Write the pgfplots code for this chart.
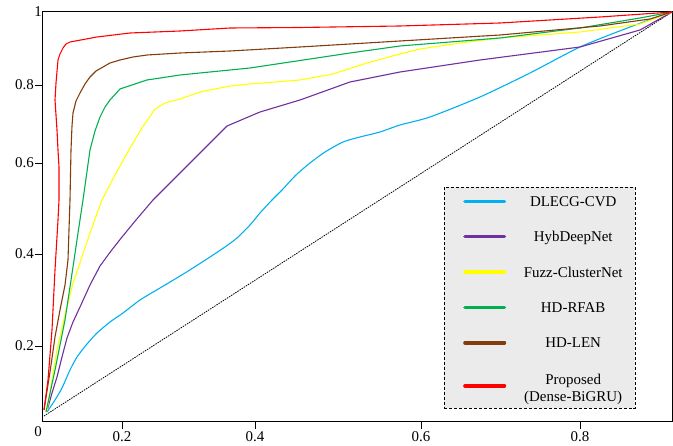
\documentclass[border=0pt]{standalone}
\usepackage{pgfplots}
\pgfplotsset{compat=1.18}
\usepackage{fontspec}
\setmainfont{Liberation Serif}
\definecolor{cCyan}{HTML}{00B0F0}
\definecolor{cPurple}{HTML}{7030A0}
\definecolor{cYellow}{HTML}{FFFF00}
\definecolor{cGreen}{HTML}{00B050}
\definecolor{cBrown}{HTML}{843C0C}
\definecolor{cRed}{HTML}{FF0000}
\definecolor{legfill}{HTML}{EBEBEB}
\begin{document}
\begin{tikzpicture}
\path[use as bounding box] (-43bp,-25bp) rectangle (630bp,421bp);
\begin{axis}[
  at={(0,0)}, anchor=south west,
  scale only axis, width=629bp, height=409bp,
  xmin=43, xmax=672, ymin=0, ymax=409,
  axis line style={black, line width=1bp},
  xtick={122,255,421,580}, xticklabels={0.2,0.4,0.6,0.8},
  ytick={75,167,258,336}, yticklabels={0.2,0.4,0.6,0.8},
  tick align=outside, xtick pos=bottom, ytick pos=left,
  major tick length=8bp, tick style={black, line width=0.9bp},
  tick label style={font=\fontsize{15}{17}\selectfont},
  yticklabel style={inner xsep=1bp},
  xticklabel style={inner ysep=2bp},
  clip=false,
  legend style={
    at={(axis cs:444,234)}, anchor=north west,
    draw=black, densely dashed, fill=legfill,
    inner xsep=19bp, inner ysep=7.5bp,
    row sep=22bp, column sep=24bp,
    nodes={inner sep=0pt},
    font=\fontsize{15}{17}\selectfont,
  },
  legend image code/.code={\draw[solid, line width=3.5bp, line cap=round] (1.75bp,0bp) -- (41.25bp,0bp);},
]
% chance line
\addplot[forget plot, black, line width=0.8bp, dash pattern=on 1.5bp off 1bp] coordinates {(44,5) (672,409)};
% DLECG-CVD
\addplot[cCyan, line width=1.1bp, solid, smooth, tension=0.4] coordinates {
(47,9) (55,21) (62,33) (70,51) (77,64) (87,77) (97,88) (110,99) (123,108) (140,121) (160,133) (185,148) (210,164) (225,174) (237,183) (250,196) (260,208) (272,221) (282,231) (296,246) (310,258) (325,269) (343,279) (360,284) (380,289) (400,296) (430,304) (480,324) (530,348) (580,374) (630,394) (672,409)};
\addlegendentry{\makebox[86bp]{\strut DLECG-CVD}}
% HybDeepNet
\addplot[cPurple, line width=1.1bp, solid] coordinates {
(47,10) (52,28) (57,44) (62,64) (67,83) (73,99) (80,114) (90,136) (100,155) (111,170) (122,184) (136,201) (153,221) (190,258) (227,295) (260,309) (300,321) (350,339) (400,349) (480,361) (580,374) (640,391) (672,409)};
\addlegendentry{\makebox[86bp]{\strut HybDeepNet}}
% Fuzz-ClusterNet
\addplot[cYellow, line width=1.1bp, solid] coordinates {
(47,10) (52,41) (57,71) (65,106) (73,138) (82,164) (90,188) (102,221) (115,246) (130,273) (142,293) (155,312) (165,318) (180,322) (200,329) (230,335) (250,337) (300,341) (333,347) (367,358) (400,367) (420,372) (460,378) (500,383) (580,389) (640,397) (672,409)};
\addlegendentry{\makebox[86bp]{\strut Fuzz-ClusterNet}}
% HD-RFAB
\addplot[cGreen, line width=1.1bp, solid] coordinates {
(46,9) (55,51) (65,101) (73,154) (78,188) (83,221) (90,271) (95,290) (100,304) (105,314) (110,321) (120,332) (147,341) (180,346) (230,351) (250,353) (350,368) (400,375) (500,383) (580,393) (640,403) (672,409)};
\addlegendentry{\makebox[86bp]{\strut HD-RFAB}}
% HD-LEN
\addplot[cBrown, line width=1.1bp, solid] coordinates {
(44,11) (50,49) (55,84) (60,111) (65,136) (68,161) (70,221) (71,271) (72,295) (73,308) (76,320) (80,328) (85,337) (90,344) (96,350) (103,354) (110,358) (120,361) (133,364) (147,366) (180,368) (230,370) (300,374) (400,380) (500,386) (600,395) (650,402) (672,409)};
\addlegendentry{\makebox[86bp]{\strut HD-LEN}}
% Proposed
\addplot[cRed, line width=1.1bp, solid] coordinates {
(44,11) (48,41) (52,91) (55,151) (58,201) (59,221) (59,254) (58,271) (57,291) (55,321) (56,338) (58,361) (60,367) (63,373) (66,377) (70,379) (97,384) (130,388) (180,390) (230,393) (300,393.5) (400,395) (500,398) (600,404) (672,409)};
\addlegendentry{\makebox[86bp]{\raisebox{4bp}{\def\arraystretch{1.06}\begin{tabular}{@{}c@{}}Proposed\\(Dense-BiGRU)\rule[-9bp]{0pt}{9bp}\end{tabular}}}}
\node[anchor=east, inner sep=0pt, font=\fontsize{15}{17}\selectfont] at (axis cs:43,409) [xshift=-1bp] {1};
\node[anchor=east, inner sep=0pt, font=\fontsize{15}{17}\selectfont] at (axis cs:43,0) [xshift=-1bp, yshift=-11bp] {0};
\end{axis}
\end{tikzpicture}
\end{document}
